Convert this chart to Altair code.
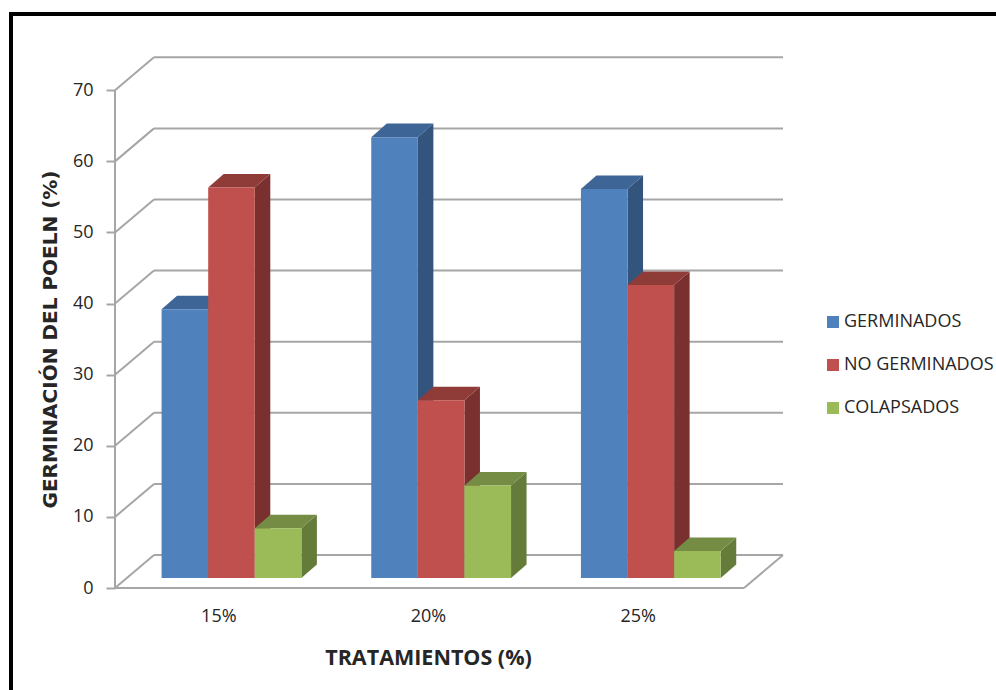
import altair as alt
import pandas as pd

# Measured series (% of pollen grains per treatment)
treatments = ["15%", "20%", "25%"]
germinados = [37.8, 62, 54.7]
no_germinados = [54.9, 25, 41.2]
colapsados = [7, 13, 3.8]
series_names = ["GERMINADOS", "NO GERMINADOS", "COLAPSADOS"]
series_values = [germinados, no_germinados, colapsados]
front_colors = ["#4F81BD", "#C0504D", "#9BBB59"]
top_colors = ["#3D6596", "#8F3C39", "#748C44"]
side_colors = ["#33547C", "#7A302E", "#657B3A"]
grid_ticks = list(range(0, 71, 10))

# Oblique projection, expressed in axis units
WALL_DX, WALL_DY = 0.186, 4.64      # depth of the floor and the back wall
BAR_DX, BAR_DY = 0.074, 1.9         # depth of one column
BAR_W = 1 / 4.5                     # column width as a share of one category
BAR_BASE = 1.41                     # columns stand inside the floor
GRID = "#A6A6A6"
TEXT = "#262626"
FONT = "Open Sans"

x_scale = alt.Scale(domain=[0, 3 + WALL_DX], range=[0, 668], nice=False, zero=False)
y_scale = alt.Scale(domain=[0, 74.68], nice=False, zero=False)

# Every layer carries the same axis definitions so they merge into one pair of axes
x_axis = alt.Axis(
    values=[0.5, 1.5, 2.5],
    labelExpr="['" + "','".join(treatments) + "'][floor(datum.value)]",
    title="TRATAMIENTOS (%)",
    titleFont=FONT, titleFontSize=21.5, titleFontWeight="bold", titleColor=TEXT,
    titleX=313, titleY=59,
    labelFont=FONT, labelFontSize=18, labelColor=TEXT, labelPadding=19, labelOffset=-1.5,
    tickSize=0, domain=False, grid=False,
)
y_axis = alt.Axis(
    values=grid_ticks,
    title="GERMINACIÓN DEL POELN (%)",
    titleFont="DejaVu Sans", titleFontSize=20, titleFontWeight="bold", titleColor=TEXT,
    titleX=-55, titleY=282, titleAngle=270,
    labelFont=FONT, labelFontSize=18, labelColor=TEXT, labelPadding=13,
    tickSize=9, tickColor=GRID, tickWidth=2, domain=False, grid=False,
)


def x_enc(field="x"):
    return alt.X(f"{field}:Q", scale=x_scale, axis=x_axis)


def y_enc(field="y"):
    return alt.Y(f"{field}:Q", scale=y_scale, axis=y_axis)


# Walls, floor and the value axis line
segments = []


def add_segment(x0, y0, x1, y1):
    seg = len(segments) // 2
    segments.extend([
        {"seg": seg, "x": x0, "y": y0},
        {"seg": seg, "x": x1, "y": y1},
    ])


for v in grid_ticks:
    add_segment(WALL_DX, v + WALL_DY, 3 + WALL_DX, v + WALL_DY)
    add_segment(0, v, WALL_DX, v + WALL_DY)
add_segment(0, 0, 0, grid_ticks[-1])
add_segment(0, 0, 3, 0)
add_segment(3, 0, 3 + WALL_DX, WALL_DY)

frame = alt.Chart(pd.DataFrame({"k": [0]})).mark_rule(color="black", strokeWidth=4)
frame_top = frame.encode(x=alt.value(-106), x2=alt.value(881), y=alt.value(-43))
frame_left = frame.encode(x=alt.value(-104), y=alt.value(-45), y2=alt.value(633))

grid = alt.Chart(pd.DataFrame(segments)).mark_line(color=GRID, strokeWidth=2).encode(
    x=x_enc(), y=y_enc(), detail="seg:N", order="x:Q",
)

layers = [frame_top, frame_left, grid]

# One set of faces per series; later series paint over the side faces of earlier ones
for s, (name, values) in enumerate(zip(series_names, series_values)):
    front, side, top = [], [], []
    for c, v in enumerate(values):
        left = c + BAR_W * (1 + s)
        right = left + BAR_W
        value_top = BAR_BASE + v
        front.append({"series": name, "x": left, "x2": right, "y": BAR_BASE, "y2": value_top})
        side.append({"bar": c, "x": right, "y": value_top, "y2": BAR_BASE})
        side.append({"bar": c, "x": right + BAR_DX, "y": value_top + BAR_DY, "y2": BAR_BASE + BAR_DY})
        top.append({"bar": c, "x": left, "x2": right, "y": value_top})
        top.append({"bar": c, "x": left + BAR_DX, "x2": right + BAR_DX, "y": value_top + BAR_DY})

    layers.append(alt.Chart(pd.DataFrame(side)).mark_area(color=side_colors[s], orient="vertical").encode(
        x=x_enc(), y=y_enc(), y2="y2:Q", detail="bar:N",
    ))
    layers.append(alt.Chart(pd.DataFrame(top)).mark_area(color=top_colors[s], orient="horizontal").encode(
        y=y_enc(), x=x_enc(), x2="x2:Q", detail="bar:N",
    ))
    layers.append(alt.Chart(pd.DataFrame(front)).mark_rect().encode(
        x=x_enc(), x2="x2:Q", y=y_enc(), y2="y2:Q",
        color=alt.Color("series:N", scale=alt.Scale(domain=series_names, range=front_colors), legend=alt.Legend(
            title=None, orient="none", legendX=709, legendY=256,
            symbolType="square", symbolSize=144, symbolStrokeWidth=0,
            labelFont=FONT, labelFontSize=18, labelColor=TEXT, labelOffset=2,
            rowPadding=25, labelLimit=300,
        )),
    ))

chart = alt.layer(*layers).properties(
    width=668,
    height=531,
    padding={"left": 115, "top": 57, "right": 213, "bottom": 102},
    autosize=alt.AutoSizeParams(type="none"),
    background="white",
).configure_view(stroke=None)

chart.save("out.html", embed_options={"renderer": "svg", "actions": False})
